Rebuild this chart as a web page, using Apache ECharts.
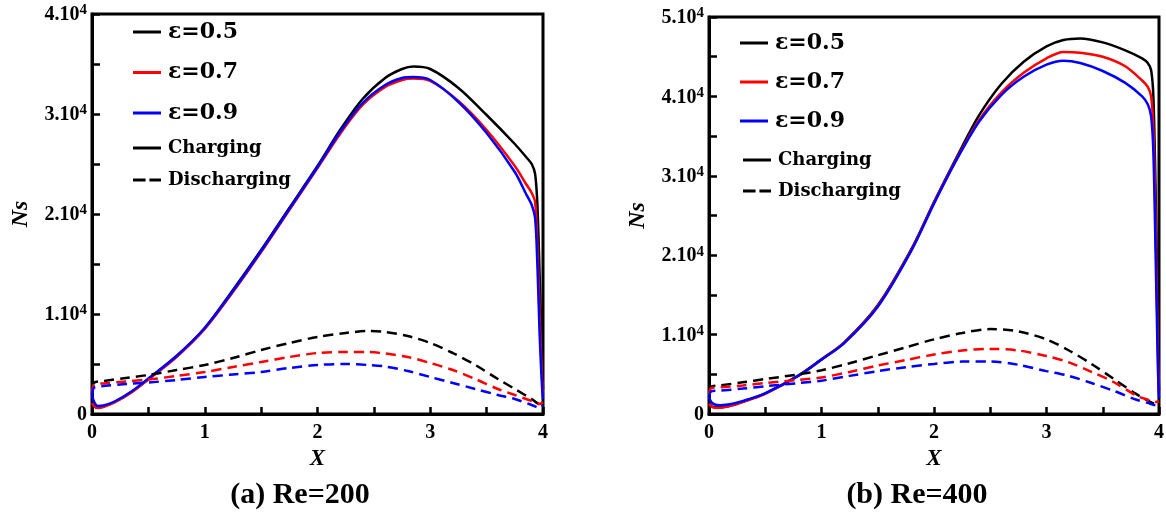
<!DOCTYPE html>
<html><head><meta charset="utf-8">
<script src="https://cdn.jsdelivr.net/npm/echarts@6/dist/echarts.min.js"></script>
<style>html,body{margin:0;padding:0;background:#fff;}#c{width:1166px;height:512px;}</style>
</head><body><div id="c"></div>
<script>
// ---------- (a) Re=200 ----------
const xA   = [0,0.02,0.05,0.1,0.2,0.35,0.5,0.75,1.0,1.25,1.5,1.75,2.0,2.2,2.4,2.6,2.75,2.85,3.0,3.25,3.5,3.75,3.85,3.9,3.93,3.95,3.97,3.99,4.0];
const chA05 = [1200,800,650,750,1200,2200,3500,5800,8600,12400,16400,20600,24800,28400,31500,33600,34500,34750,34500,32600,29900,27000,25700,25000,24000,21000,14000,6000,2500];
const chA07 = [1100,750,600,700,1150,2150,3450,5700,8500,12200,16200,20400,24600,28000,30900,32700,33400,33550,33300,31300,28400,24800,23000,22100,21200,17000,10000,4000,1800];
const chA09 = [1900,1200,800,850,1250,2250,3550,5800,8600,12300,16300,20500,24700,28200,31100,32900,33600,33700,33400,31200,28100,24200,22000,20900,19600,15000,8000,3000,1500];
const xAd   = [0,0.01,0.03,0.1,0.3,0.5,0.75,1.0,1.25,1.5,1.75,2.0,2.25,2.45,2.6,2.8,3.0,3.2,3.4,3.6,3.75,3.9,3.97,4.0];
const diA05 = [2600,3000,3200,3300,3600,3900,4400,4900,5600,6400,7100,7700,8100,8300,8200,7800,7100,6100,4900,3500,2500,1500,1000,1200];
const diA07 = [2000,2800,3000,3050,3250,3450,3800,4200,4700,5200,5700,6100,6200,6200,6050,5700,5100,4400,3500,2500,1900,1300,1000,1200];
const diA09 = [1800,2500,2700,2800,3000,3150,3400,3700,3950,4200,4600,4900,5000,4900,4750,4300,3700,3100,2500,1900,1500,900,600,900];
// ---------- (b) Re=400 ----------
const xB   = [0,0.02,0.05,0.1,0.2,0.35,0.5,0.8,1.0,1.2,1.5,1.8,2.0,2.2,2.4,2.6,2.8,3.0,3.15,3.3,3.5,3.7,3.85,3.9,3.93,3.95,3.97,3.99,4.0];
const chB05 = [1400,1000,850,850,1100,1800,2600,4900,6900,9000,13700,20800,26700,32300,37600,41600,44400,46300,47100,47300,46800,45800,44800,44200,43300,40000,28000,10000,3000];
const chB07 = [1300,950,800,800,1050,1750,2550,4850,6850,8950,13600,20700,26600,32100,37000,40500,43000,44800,45600,45500,45000,43800,42000,41200,40000,36000,24000,8000,2500];
const chB09 = [2200,1500,1200,1100,1250,1850,2600,4850,6850,8900,13500,20600,26500,32000,36800,40200,42500,44000,44500,44200,43200,41700,40000,39000,37500,33000,20000,6000,2000];
const xBd   = [0,0.01,0.03,0.1,0.3,0.5,0.8,1.0,1.25,1.5,1.75,2.0,2.25,2.5,2.75,3.0,3.2,3.4,3.6,3.8,3.9,3.97,4.0];
const diB05 = [2800,3300,3500,3600,4000,4400,5000,5500,6400,7400,8400,9400,10200,10700,10400,9400,8000,6300,4400,2500,1700,1300,1500];
const diB07 = [2500,3100,3300,3350,3600,3900,4300,4600,5300,6100,6800,7500,8000,8200,8000,7300,6500,5300,4000,2300,1800,1500,1600];
const diB09 = [2200,2700,2900,2950,3200,3500,3900,4200,4800,5400,5900,6300,6600,6600,6200,5400,4800,3900,2900,1800,1400,1100,1300];
// ---------- labels ----------
const epsNames = ['ε=0.5','ε=0.7','ε=0.9'];
const modeNames = ['Charging','Discharging'];
const yTickVals = [0,10000,20000,30000,40000,50000];
const yTickMant = ['0','1.10','2.10','3.10','4.10','5.10'];
const subtitles = ['(a) Re=200','(b) Re=400'];

const colors = ['#000000','#ff0000','#0000ff'];
const serif = '"Liberation Serif","Times New Roman",serif';
const dserif = '"DejaVu Serif",serif';

function pairs(xs, ys){ return xs.map((x,i)=>[x, ys[i]]); }
function line(name, xs, ys, color, dashed, gi){
  return {
    name, type:'line', xAxisIndex:gi, yAxisIndex:gi, data:pairs(xs,ys),
    symbol:'none', smooth:0.3, color, animation:false,
    lineStyle:{color, width:2.5, type: dashed ? [10,6] : 'solid'},
    emphasis:{disabled:true}, z: 3
  };
}
const series = [];
[[xA,[chA05,chA07,chA09],xAd,[diA05,diA07,diA09]],[xB,[chB05,chB07,chB09],xBd,[diB05,diB07,diB09]]].forEach((g,gi)=>{
  g[1].forEach((ys,k)=>series.push(line(epsNames[k], g[0], ys, colors[k], false, gi)));
  g[3].forEach((ys,k)=>series.push(line(epsNames[k]+' (discharging)', g[2], ys, colors[k], true, gi)));
});
series.push({name:modeNames[0], type:'line', data:[], color:'#000', lineStyle:{color:'#000',width:2.5}, symbol:'none'});
series.push({name:modeNames[1], type:'line', data:[], color:'#000', lineStyle:{color:'#000',width:2.5,type:[10,6]}, symbol:'none'});

function yLabel(v){
  const i = yTickVals.indexOf(v);
  if (i === 0) return '{b|0}';
  return '{b|' + yTickMant[i] + '}{s|4}';
}
const axisLineStyle = {color:'#000', width:3};
function xAxis(gi){
  return {
    gridIndex:gi, type:'value', min:0, max:4, interval:1,
    name:'X', nameLocation:'middle', nameGap:29,
    nameTextStyle:{fontFamily:serif, fontWeight:'bold', fontStyle:'italic', fontSize:23, color:'#000'},
    axisLine:{show:true, onZero:false, lineStyle:axisLineStyle},
    axisTick:{show:true, inside:true, length:7, lineStyle:{color:'#000', width:2.5}},
    minorTick:{show:true, splitNumber:2, length:7, lineStyle:{color:'#000', width:2.5}},
    splitLine:{show:false}, minorSplitLine:{show:false},
    axisLabel:{fontFamily:serif, fontWeight:'bold', fontSize:20, color:'#000', margin:9}
  };
}
function yAxis(gi, max){
  return {
    gridIndex:gi, type:'value', min:0, max:max, interval:10000,
    name:'Ns', nameLocation:'middle', nameGap:59,
    nameTextStyle:{fontFamily:serif, fontWeight:'bold', fontStyle:'italic', fontSize:24, color:'#000'},
    axisLine:{show:true, onZero:false, lineStyle:axisLineStyle},
    axisTick:{show:true, inside:true, length:8, lineStyle:{color:'#000', width:2.5}},
    minorTick:{show:true, splitNumber:2, length:8, lineStyle:{color:'#000', width:2.5}},
    splitLine:{show:false}, minorSplitLine:{show:false},
    axisLabel:{margin:5, formatter:yLabel, color:'#000',
      rich:{
        b:{fontFamily:serif, fontWeight:'bold', fontSize:20, color:'#000', lineHeight:22, verticalAlign:'bottom'},
        s:{fontFamily:serif, fontWeight:'bold', fontSize:15, color:'#000', lineHeight:12, verticalAlign:'top'}
      }}
  };
}
function legend(left, top, names, fontSize, lh, gap, icons){
  return {
    orient:'vertical', left, top, padding:0, itemGap:gap, itemWidth:28, itemHeight:3,
    icon:'rect', selectedMode:false,
    data: names.map((n,i)=>({name:n, icon: icons ? icons[i] : 'rect'})),
    itemStyle:{borderWidth:0},
    textStyle:{fontFamily:dserif, fontWeight:'bold', fontSize, lineHeight:lh, color:'#000', padding:[0,0,0,2]}
  };
}
const dashIcon = 'path://M0,0H13V3H0Z M17,0H29V3H17Z';

const option = {
  backgroundColor:'#fff',
  animation:false,
  grid:[
    {left:92, top:14, width:451, height:400, show:true, borderColor:'#000', borderWidth:3, backgroundColor:'transparent', outerBoundsMode:'none'},
    {left:709, top:17, width:450, height:397, show:true, borderColor:'#000', borderWidth:3, backgroundColor:'transparent', outerBoundsMode:'none'}
  ],
  xAxis:[xAxis(0), xAxis(1)],
  yAxis:[yAxis(0,40000), yAxis(1,50000)],
  legend:[
    legend(133, 20, epsNames, 22, 24, 16.5),
    legend(133, 138, modeNames, 18, 20, 12, ['rect', dashIcon]),
    legend(740, 31, epsNames, 22, 24, 15),
    legend(743, 150, modeNames, 18, 20, 11, ['rect', dashIcon])
  ],
  graphic:[
    {type:'text', x:300, y:495, style:{text:subtitles[0], fontFamily:serif, fontWeight:'bold', fontSize:30, fill:'#000', align:'center', verticalAlign:'middle'}},
    {type:'text', x:917, y:495, style:{text:subtitles[1], fontFamily:serif, fontWeight:'bold', fontSize:30, fill:'#000', align:'center', verticalAlign:'middle'}}
  ],
  series
};
const chart = echarts.init(document.getElementById('c'), null, {renderer:'canvas'});
chart.setOption(option);
</script></body></html>
